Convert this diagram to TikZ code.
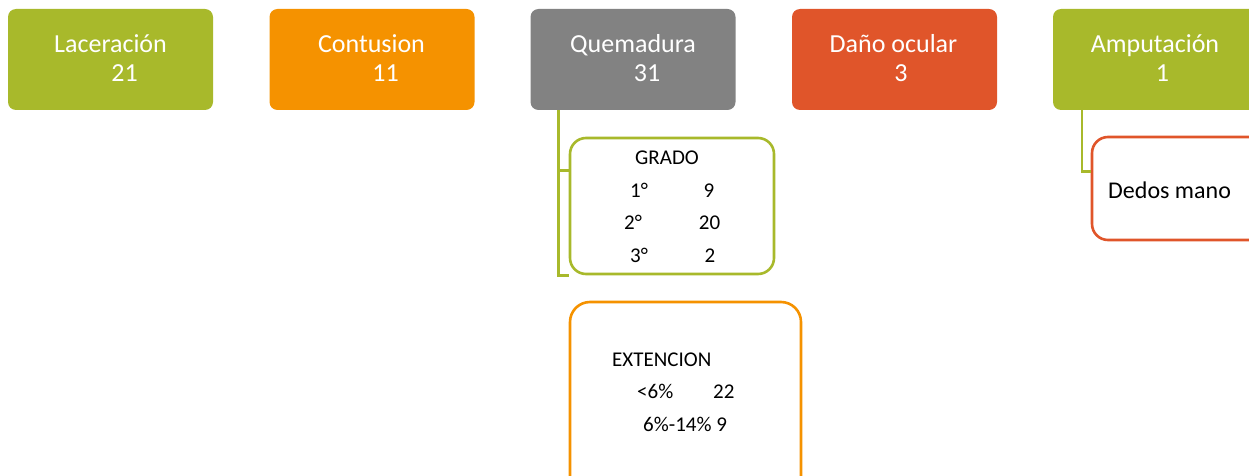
\documentclass[tikz,border=0pt]{standalone}
\usepackage{fontspec}
\setmainfont{Carlito}
\definecolor{cgreen}{HTML}{A8B92B}
\definecolor{corange}{HTML}{F59200}
\definecolor{cgray}{HTML}{828282}
\definecolor{cred}{HTML}{E0552A}
\begin{document}
\begin{tikzpicture}[x=1pt,y=-1pt,
  topbox/.style={draw=none,rounded corners=8pt,minimum width=205pt,minimum height=101pt,inner sep=0pt},
  subbox/.style={draw=#1,fill=white,line width=2.6pt,rounded corners=16pt,inner sep=0pt},
  conn/.style={draw=cgreen,line width=2.6pt},
  toptxt/.style={text=white,inner sep=0pt,anchor=base,font=\fontsize{26}{30}\selectfont},
  subtxt/.style={text=black,inner sep=0pt,anchor=base,font=\fontsize{21}{25}\selectfont}]
\useasboundingbox (0,0) rectangle (1249,476);
% top boxes
\node[topbox,fill=cgreen] (lac) at (110.5,59.5) {};
\node[topbox,fill=corange] (con) at (372,59.5) {};
\node[topbox,fill=cgray] (que) at (633,59.5) {};
\node[topbox,fill=cred] (dan) at (894.5,59.5) {};
\node[topbox,fill=cgreen] (amp) at (1155.5,59.5) {};
% top texts
\node[toptxt] (lac1) at (110.5,53) {Laceración};
\node[toptxt] (lac2) at (124.5,82) {21};
\node[toptxt] (con1) at (371.5,53) {Contusion};
\node[toptxt] (con2) at (385.5,82) {11};
\node[toptxt] (que1) at (633,53) {Quemadura};
\node[toptxt] (que2) at (647,82) {31};
\node[toptxt] (dan1) at (893.5,53) {Daño ocular};
\node[toptxt] (dan2) at (901,82) {3};
\node[toptxt] (amp1) at (1155,53) {Amputación};
\node[toptxt] (amp2) at (1162.5,82) {1};
% sub boxes
\node[subbox=cgreen,minimum width=204pt,minimum height=136pt] (gra) at (672,206) {};
\node[subbox=corange,rounded corners=20pt,minimum width=231pt,minimum height=200pt] (ext) at (685.5,402) {};
\node[subbox=cred,minimum width=204pt,minimum height=103pt] (ded) at (1194,188.5) {};
% connectors
\coordinate (qa) at ([xshift=28pt]que.south west);
\draw[conn] (qa) |- ([yshift=-34pt]gra.north west);
\draw[conn] (qa) |- (gra.south west);
\coordinate (aa) at ([xshift=29pt]amp.south west);
\draw[conn] (aa) |- ([yshift=-36pt]ded.north west);
% GRADO texts
\node[subtxt] (g0) at (667,164) {GRADO};
\node[subtxt] (g1a) at (639,197) {1°};
\node[subtxt] (g1b) at (709,197) {9};
\node[subtxt] (g2a) at (633,229) {2°};
\node[subtxt] (g2b) at (709.5,229) {20};
\node[subtxt] (g3a) at (639,262) {3°};
\node[subtxt] (g3b) at (710,262) {2};
% EXTENCION texts
\node[subtxt,anchor=base west] (e0) at (612,366) {EXTENCION};
\node[subtxt,anchor=base west] (e1a) at (637,398) {<6\%};
\node[subtxt,anchor=base west] (e1b) at (713,398) {22};
\node[subtxt,anchor=base west] (e2) at (643,431) {6\%-14\% 9};
% Dedos
\node[inner sep=0pt,anchor=base west,font=\fontsize{24}{28}\selectfont] (d0) at (1108,198) {Dedos mano};
\end{tikzpicture}
\end{document}
